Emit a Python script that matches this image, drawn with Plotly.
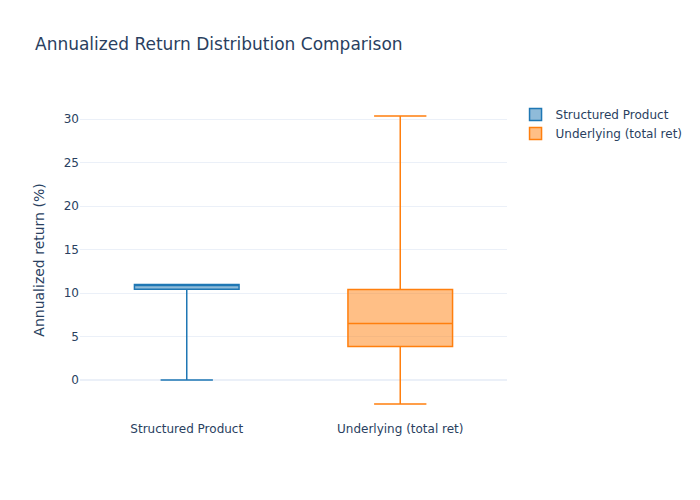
import plotly.graph_objects as go

# precomputed box statistics (annualized return, %)
products = ["Structured Product", "Underlying (total ret)"]
lower = [0.0, -2.75]
q1 = [10.45, 3.85]
median = [10.98, 6.5]
q3 = [10.98, 10.42]
upper = [10.98, 30.35]
colors = ["#1f77b4", "#ff7f0e"]

fig = go.Figure()

for i, name in enumerate(products):
    fig.add_trace(go.Box(
        name=name,
        x=[name],
        q1=[q1[i]],
        median=[median[i]],
        q3=[q3[i]],
        lowerfence=[lower[i]],
        upperfence=[upper[i]],
        marker_color=colors[i],
        line=dict(color=colors[i], width=1.5),
    ))

fig.update_layout(
    title='Annualized Return Distribution Comparison',
    yaxis_title='Annualized return (%)',
    template='plotly_white',
    font=dict(family='DejaVu Sans'),
    width=700,
    height=500,
)

# page margin off so the 700x500 figure sits at the window origin
fig.write_html(
    "out.html",
    config={'displayModeBar': False},
    post_script="document.body.style.margin='0';",
)
